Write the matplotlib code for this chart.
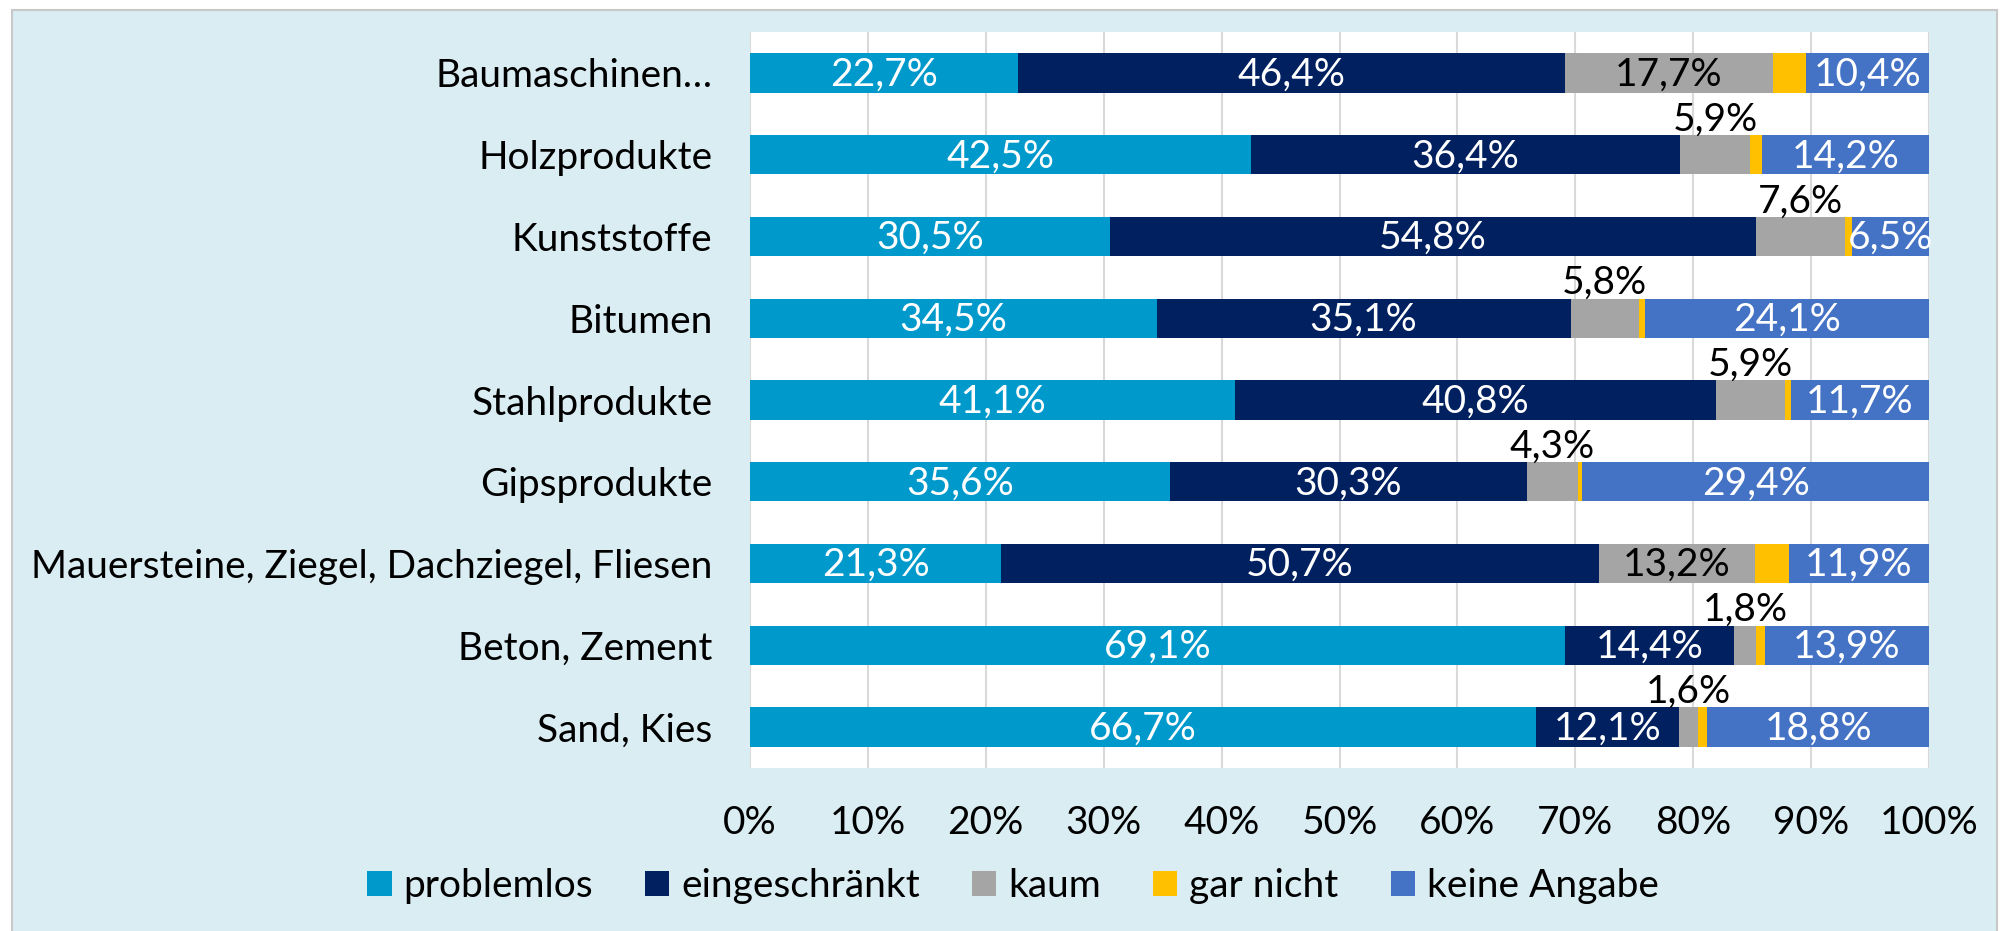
import matplotlib
matplotlib.use("Agg")
import matplotlib.pyplot as plt
from matplotlib.patches import Rectangle
import numpy as np

categories = ["Baumaschinen…", "Holzprodukte", "Kunststoffe", "Bitumen", "Stahlprodukte",
              "Gipsprodukte", "Mauersteine, Ziegel, Dachziegel, Fliesen", "Beton, Zement", "Sand, Kies"]
series_names = ["problemlos", "eingeschränkt", "kaum", "gar nicht", "keine Angabe"]
problemlos = [22.7, 42.5, 30.5, 34.5, 41.1, 35.6, 21.3, 69.1, 66.7]
eingeschraenkt = [46.4, 36.4, 54.8, 35.1, 40.8, 30.3, 50.7, 14.4, 12.1]
kaum = [17.7, 5.9, 7.6, 5.8, 5.9, 4.3, 13.2, 1.8, 1.6]
gar_nicht = [2.8, 1.0, 0.6, 0.5, 0.5, 0.4, 2.9, 0.8, 0.8]
keine_angabe = [10.4, 14.2, 6.5, 24.1, 11.7, 29.4, 11.9, 13.9, 18.8]
xticks = [0, 10, 20, 30, 40, 50, 60, 70, 80, 90, 100]

colors = ["#0099CB", "#002060", "#A5A5A5", "#FFC000", "#4472C4"]
label_colors = ["white", "white", "black", None, "white"]

plt.rcParams['font.family'] = ['Lato', 'DejaVu Sans']
FS = 28

W, H, DPI = 2008, 931, 100
fig = plt.figure(figsize=(W / DPI, H / DPI), dpi=DPI, facecolor="white")
# background box
bg = Rectangle((12 / W, -0.01), (1997 - 12) / W, 1.01 - 10 / H, transform=fig.transFigure,
               facecolor="#DAEDF3", edgecolor="#C8C8C8", linewidth=1.5, zorder=-10)
fig.patches.append(bg)

ax = fig.add_axes([750 / W, 1 - 768 / H, (1929 - 750) / W, (768 - 32) / H])
ax.set_zorder(1)
ax.set_facecolor("white")

data = [problemlos, eingeschraenkt, kaum, gar_nicht, keine_angabe]
y = np.arange(len(categories))
left = np.zeros(len(categories))
bh = 0.48
for k, (vals, name, col) in enumerate(zip(data, series_names, colors)):
    vals = np.array(vals)
    ax.barh(y, vals, left=left, height=bh, color=col, label=name, zorder=3, edgecolor="none")
    if label_colors[k] is not None:
        for i, v in enumerate(vals):
            cx = left[i] + v / 2
            txt = f"{v:.1f}%".replace(".", ",")
            if k == 2 and v < 10:
                ax.text(cx, y[i] - bh / 2 + 0.03, txt, ha="center", va="bottom",
                        color="black", fontsize=FS, zorder=5)
            else:
                ax.text(cx, y[i] + 0.02, txt, ha="center", va="center",
                        color=label_colors[k], fontsize=FS, zorder=5)
    left = left + vals

ax.set_xlim(0, 100)
ax.set_ylim(len(categories) - 0.5, -0.5)
ax.set_yticks(y)
ax.set_yticklabels(categories, fontsize=FS)
ax.set_xticks(xticks)
ax.set_xticklabels([f"{t}%" for t in xticks], fontsize=FS)
ax.tick_params(axis="both", length=0)
ax.tick_params(axis="y", pad=27)
ax.tick_params(axis="x", pad=27)
ax.grid(axis="x", color="#D9D9D9", linewidth=1.5, zorder=0)
ax.set_axisbelow(True)
for s in ax.spines.values():
    s.set_visible(False)

handles, labels = ax.get_legend_handles_labels()
leg = fig.legend(handles, labels, loc="center", bbox_to_anchor=(1013 / W, 1 - 886 / H), ncol=5,
                 frameon=False, fontsize=FS, handlelength=0.62, handleheight=0.62,
                 handletextpad=0.3, columnspacing=1.35)

fig.savefig("out.png", dpi=DPI, facecolor="white")
